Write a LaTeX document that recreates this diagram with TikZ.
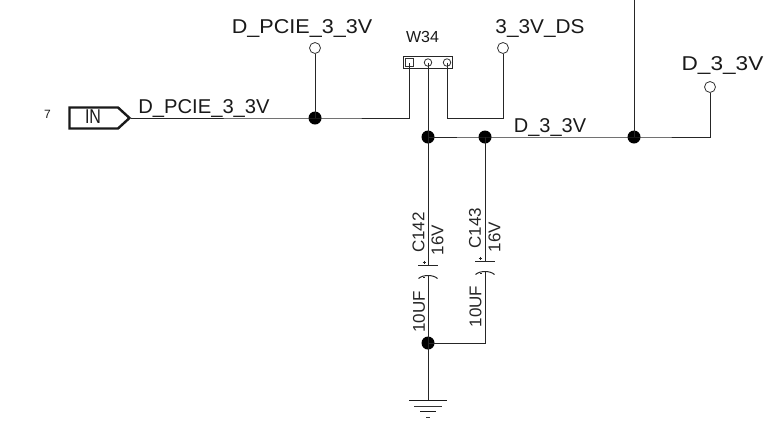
\documentclass[tikz,border=0pt]{standalone}
\usepackage{fontspec}
\setmainfont{Liberation Sans}
\usetikzlibrary{calc}
\tikzset{
  wire/.style={line width=1pt,black!85},
  junc/.style={circle,fill=black,inner sep=0pt,minimum size=13pt},
  offpage/.style={circle,draw=black!80,fill=white,line width=0.8pt,inner sep=0pt,minimum size=11pt},
  pinc/.style={circle,draw=black!80,line width=0.8pt,inner sep=0pt,minimum size=7.5pt},
  pins/.style={rectangle,draw=black!80,line width=0.8pt,inner sep=0pt,minimum size=7.5pt},
  lab/.style={inner sep=0pt,anchor=base,text=black!90,font=\fontsize{20}{20}\selectfont},
  vlab/.style={inner sep=0pt,text=black!85,rotate=90,font=\fontsize{17}{17}\selectfont},
  plate/.style={line width=1pt,black!85},
}
\begin{document}
\begin{tikzpicture}[x=1pt,y=-1pt]
\useasboundingbox (0,0) rectangle (784,424);
% labels
\node[lab,xscale=1.08] (t1) at (302,33) {D\_PCIE\_3\_3V};
\node[lab,xscale=1.01] (t2) at (204,113) {D\_PCIE\_3\_3V};
\node[lab,xscale=1.04] (t3) at (540,33) {3\_3V\_DS};
\node[lab,xscale=1.13] (t4) at (722.5,70) {D\_3\_3V};
\node[lab] (t5) at (550,132) {D\_3\_3V};
\node[lab,font=\fontsize{16}{16}\selectfont] (t6) at (422.5,42) {W34};
\node[lab,font=\fontsize{12}{12}\selectfont] (t7) at (47.5,118) {7};
% IN port
\node[lab,xscale=.8] (inlab) at (93,123) {IN};
\draw[line width=2.4pt,black!90,miter limit=4] (69.5,107.5) -- (118,107.5) -- (129.5,118) -- (118,128.5) -- (69.5,128.5) -- cycle;
\coordinate (intip) at (130.5,118);
% header
\draw[line width=0.9pt,black!85] (403.5,56) rectangle (452,68);
\node[pins] (p1) at (409.5,62.5) {};
\node[pinc] (p2) at (428,62.5) {};
\node[pinc] (p3) at (447,62.5) {};
% off-page
\node[offpage] (o1) at (315,48) {};
\node[offpage] (o2) at (503,48) {};
\node[offpage] (o3) at (710,87) {};
% junctions
\node[junc] (j1) at (315,118) {};
\node[junc] (j2) at (428,137) {};
\node[junc] (j3) at (485,137) {};
\node[junc] (j4) at (634,137) {};
\node[junc] (j5) at (428,343) {};
\coordinate (top) at (634,0);
% capacitor ends
\coordinate (c1a) at (428,265);
\coordinate (c1b) at (428,275);
\coordinate (c2a) at (485,261);
\coordinate (c2b) at (485,271);
\coordinate (g) at (428,400);
% wires
\draw[wire] (intip) -- (j1.center) -- (409.5,118) -- (p1.center);
\draw[wire] (o1) -- (j1.center);
\draw[wire] (p3.center) -- (447,118) -- (503,118) -- (o2.south);
\draw[wire] (p2.center) -- (j2.center);
\draw[wire] (j2.center) -- (j3.center) -- (j4.center) -- (710,137) -- (o3.south);
\draw[wire] (top) -- (j4.center);
\draw[wire] (j2.center) -- (c1a);
\draw[wire] (j3.center) -- (c2a);
\draw[wire] (c1b) -- (j5.center);
\draw[wire] (c2b) -- (485,343) -- (j5.center);
\draw[wire] (j5.center) -- (g);
% capacitor plates
\draw[plate] (418,265) -- (438,265);
\draw[plate] (475,261) -- (495,261);
\draw[plate] (418.5,278.5) .. controls (423,274.5) and (433,274.5) .. (437.5,278.5);
\draw[plate] (475.5,274.5) .. controls (480,270.5) and (490,270.5) .. (494.5,274.5);
\draw[line width=0.6pt,black!85] (422.5,262) -- (425.5,262) (424,260.5) -- (424,263.5);
\draw[line width=0.6pt,black!85] (478.5,258) -- (481.5,258) (480,256.5) -- (480,259.5);
\draw[line width=0.6pt,black!85] (423,277) -- (425,277);
\draw[line width=0.6pt,black!85] (480,273) -- (482,273);
% cap labels
\node[vlab] (c1n) at (418.5,232.5) {C142};
\node[vlab] (c1v) at (437.5,240) {16V};
\node[vlab] (c1u) at (419,312) {10UF};
\node[vlab] (c2n) at (475,228) {C143};
\node[vlab] (c2v) at (494.5,237) {16V};
\node[vlab] (c2u) at (475.5,306.5) {10UF};
% ground
\draw[line width=1pt,black!90] (g) ++(-19,0) -- ++(38,0);
\draw[line width=1pt,black!80] (414,406) -- (442,406);
\draw[line width=1pt,black!90] (420,411) -- (436,411);
\draw[line width=1pt,black!80] (426,417) -- (430,417);
\end{tikzpicture}
\end{document}
